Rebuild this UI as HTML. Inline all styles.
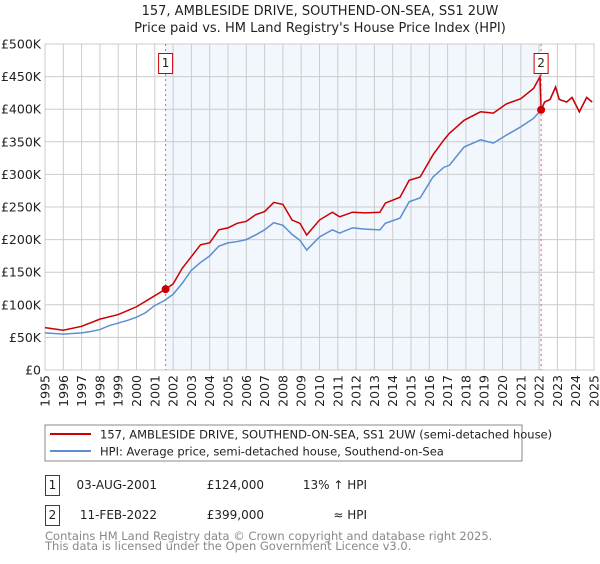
<!DOCTYPE html>
<html><head><meta charset="utf-8">
<style>
body{margin:0;background:#fff;font-family:"DejaVu Sans","Liberation Sans",sans-serif;}
svg text{font-family:"DejaVu Sans","Liberation Sans",sans-serif;}
</style></head>
<body>
<svg id="chart" width="600" height="560" xmlns="http://www.w3.org/2000/svg">
<text x="320" y="15" text-anchor="middle" font-size="13" fill="#222">157, AMBLESIDE DRIVE, SOUTHEND-ON-SEA, SS1 2UW</text>
<text x="320" y="32" text-anchor="middle" font-size="13" fill="#222">Price paid vs. HM Land Registry's House Price Index (HPI)</text>
<g id="plot"></g>
<rect x="45" y="425" width="477" height="36" fill="#fff" stroke="#888"/>
<line x1="50" y1="434" x2="91" y2="434" stroke="#cc0000" stroke-width="2"/>
<text x="100" y="438.5" font-size="11.5" fill="#222">157, AMBLESIDE DRIVE, SOUTHEND-ON-SEA, SS1 2UW (semi-detached house)</text>
<line x1="50" y1="451" x2="91" y2="451" stroke="#5b8fd0" stroke-width="2"/>
<text x="100" y="455.5" font-size="11.5" fill="#222">HPI: Average price, semi-detached house, Southend-on-Sea</text>
<rect x="45.5" y="475.5" width="14" height="20" fill="#fff" stroke="#cc0000"/>
<text x="52.5" y="489" text-anchor="middle" font-size="12" fill="#222">1</text>
<text x="157" y="489" text-anchor="end" font-size="12" fill="#222">03-AUG-2001</text>
<text x="264" y="489" text-anchor="end" font-size="12" fill="#222">£124,000</text>
<text x="367" y="489" text-anchor="end" font-size="12" fill="#222">13% ↑ HPI</text>
<rect x="45.5" y="505.5" width="14" height="20" fill="#fff" stroke="#cc0000"/>
<text x="52.5" y="519" text-anchor="middle" font-size="12" fill="#222">2</text>
<text x="157" y="519" text-anchor="end" font-size="12" fill="#222">11-FEB-2022</text>
<text x="264" y="519" text-anchor="end" font-size="12" fill="#222">£399,000</text>
<text x="367" y="519" text-anchor="end" font-size="12" fill="#222">≈ HPI</text>
<text x="45" y="540" font-size="11.5" fill="#888">Contains HM Land Registry data © Crown copyright and database right 2025.</text>
<text x="45" y="550" font-size="11.5" fill="#888">This data is licensed under the Open Government Licence v3.0.</text>
</svg>
<script>
const yTickValues=[0,50,100,150,200,250,300,350,400,450,500];
const yTickLabels=["£0","£50K","£100K","£150K","£200K","£250K","£300K","£350K","£400K","£450K","£500K"];
const xTickYears=[1995,1996,1997,1998,1999,2000,2001,2002,2003,2004,2005,2006,2007,2008,2009,2010,2011,2012,2013,2014,2015,2016,2017,2018,2019,2020,2021,2022,2023,2024,2025];
const hpiDates=[1995,1995.5,1996,1996.5,1997,1997.5,1998,1998.5,1999,1999.5,2000,2000.5,2001,2001.5,2002,2002.5,2003,2003.5,2004,2004.5,2005,2005.5,2006,2006.5,2007,2007.5,2008,2008.5,2008.93,2009.3,2010,2010.7,2011.1,2011.8,2012.5,2013.3,2013.6,2014.4,2014.9,2015.5,2016.2,2016.8,2017.1,2017.9,2018.8,2019.5,2020.2,2021,2021.7,2022.11,2022.3,2022.6,2022.9,2023.1,2023.5,2023.8,2024.2,2024.6,2024.9];
const hpiValues=[57,56,55,56,57,59,62,68,72,76,81,88,99,106,116,133,153,165,175,190,195,197,200,207,215,226,222,208,199,184,204,215,210,218,216,215,225,233,258,264,296,311,314,342,353,348,360,373,386,399,411,415,434,415,411,418,396,418,411];
const priceDates=[1995,1996,1997,1998,1999,2000,2001,2001.59,2002,2002.5,2003,2003.5,2004,2004.5,2005,2005.5,2006,2006.5,2007,2007.5,2008,2008.5,2008.93,2009.3,2010,2010.7,2011.1,2011.8,2012.5,2013.3,2013.6,2014.4,2014.9,2015.5,2016.2,2016.8,2017.1,2017.9,2018.8,2019.5,2020.2,2021,2021.7,2022.05,2022.11,2022.3,2022.6,2022.9,2023.1,2023.5,2023.8,2024.2,2024.6,2024.9];
const priceValues=[65,61,67,78,85,97,114,124,132,156,174,192,195,215,218,225,228,238,243,257,254,230,225,207,230,242,235,242,241,242,256,265,291,296,330,353,363,383,396,394,408,416,432,450,399,411,415,434,415,411,418,396,418,411];
const saleDates=[2001.59,2022.11];
const salePrices=[124,399];
const saleLabels=["1","2"];

const X0=45,X1=594,Y0=370,Y1=44;
const xs=y=>X0+(y-1995)/(2025-1995)*(X1-X0);
const ys=v=>Y0-v/500*(Y0-Y1);
const NS="http://www.w3.org/2000/svg";
const g=document.getElementById('plot');
function mk(t,a,p){const e=document.createElementNS(NS,t);for(const k in a)e.setAttribute(k,a[k]);(p||g).appendChild(e);return e;}

const shade=mk('rect',{x:xs(saleDates[0]),y:Y1,width:xs(saleDates[1])-xs(saleDates[0]),height:Y0-Y1,fill:'#eef3fc',opacity:'0.75'});



yTickValues.forEach((v,i)=>{
  const l=mk('line',{x1:X0,x2:X1,y1:ys(v),y2:ys(v),stroke:'#ccc','stroke-width':1});
  
  
  const t=mk('text',{x:X0-4,y:ys(v)+4.5,'text-anchor':'end','font-size':'12.5',fill:'#222'});
  t.textContent=yTickLabels[i];
  
  
});
xTickYears.forEach(yr=>{
  const l=mk('line',{x1:xs(yr),x2:xs(yr),y1:Y1,y2:Y0,stroke:'#ccc','stroke-width':1});
  
  
  const t=mk('text',{x:0,y:0,'text-anchor':'end','font-size':'12.5',fill:'#222',transform:`translate(${xs(yr)+4.5},375) rotate(-90)`});
  t.textContent=String(yr);
  
  
});
const frame=mk('rect',{x:X0,y:Y1,width:X1-X0,height:Y0-Y1,fill:'none',stroke:'#ccc'});



saleDates.forEach((d,i)=>{
  const l=mk('line',{x1:xs(d),x2:xs(d),y1:Y1,y2:Y0,stroke:'#e06070','stroke-width':1,'stroke-dasharray':'2,3'});
  
  
});

const hp=mk('polyline',{points:hpiDates.map((d,i)=>xs(d)+','+ys(hpiValues[i])).join(' '),fill:'none',stroke:'#5b8fd0','stroke-width':1.5});


const pp=mk('polyline',{points:priceDates.map((d,i)=>xs(d)+','+ys(priceValues[i])).join(' '),fill:'none',stroke:'#cc0000','stroke-width':1.5});



saleDates.forEach((d,i)=>{
  const c=mk('circle',{cx:xs(d),cy:ys(salePrices[i]),r:4,fill:'#cc0000'});
  
  
  const b=mk('rect',{x:xs(d)-7,y:53.5,width:14,height:20,fill:'#fff',stroke:'#cc0000'});
  
  
  const t=mk('text',{x:xs(d),y:67,'text-anchor':'middle','font-size':'12',fill:'#222'});
  t.textContent=saleLabels[i];
  
  
});
</script>
</body></html>
